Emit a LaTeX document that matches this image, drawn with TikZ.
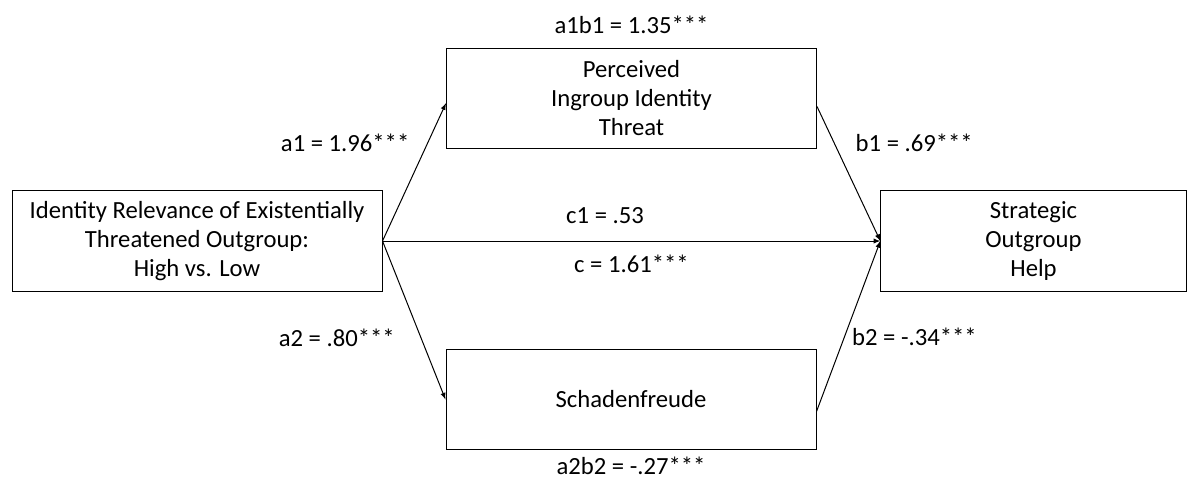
\documentclass[tikz,border=0pt]{standalone}
\usepackage{fontspec}
\setmainfont{Carlito}
\usetikzlibrary{arrows}

\begin{document}
\begin{tikzpicture}[->,>=latex,line width=0.75pt,x=0.75pt,y=-0.75pt,
  every node/.style={font=\fontsize{18.5}{21.75}\selectfont},
  box/.style={draw,rectangle,align=center,inner sep=0pt,minimum width=277.5pt,minimum height=75.5pt}]
  \useasboundingbox (0,0) rectangle (1187,481);
  \node[box] (iv) at (197,241) {Identity Relevance of Existentially\\Threatened Outgroup:\\High vs. Low};
  \node[box,label={[label distance=7pt]above:a1b1 = 1.35***}] (m1) at (631.5,98.5) {Perceived\\Ingroup Identity\\Threat};
  \node[box,label={[label distance=1.3pt]below:a2b2 = -.27***}] (m2) at (631,399.5) {Schadenfreude};
  \node[box,minimum width=229pt] (dv) at (1033.5,241) {Strategic\\Outgroup\\Help};
  \path (iv.east) edge node[pos=.71,left=10pt] {a1 = 1.96***} ([yshift=-3.5pt]m1.west);
  \path (iv.east) edge node[pos=.61,left=16pt] {a2 = .80***} (m2.west);
  \path ([yshift=-6pt]m1.east) edge node[pos=.27,right=12.5pt] {b1 = .69***} (dv.west);
  \path ([yshift=-9pt]m2.east) edge node[pos=.44,right=2pt] {b2 = -.34***} (dv.west);
  \path (iv.east) edge node[pos=.447,above=9.5pt] {c1 = .53} node[below=6.6pt] {c = 1.61***} (dv.west);
\end{tikzpicture}
\end{document}
